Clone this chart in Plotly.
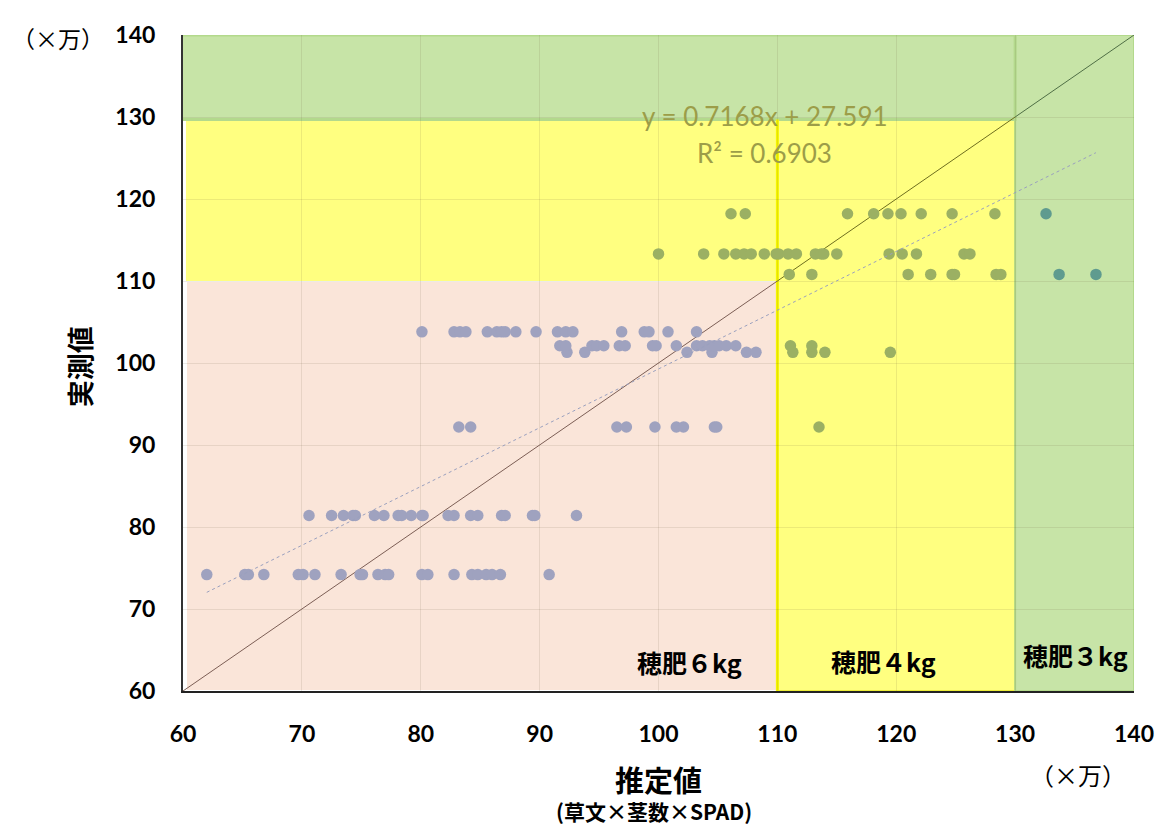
import plotly.graph_objects as go

# ---- data ----
measured_levels = [74.2, 81.4, 92.2, 101.3, 102.1, 103.8, 110.8, 113.3, 118.2]

est_at_742 = [62.0, 65.2, 65.5, 66.8, 69.7, 70.1, 71.1, 73.3, 74.9, 75.1, 76.4, 77.0, 77.3,
              80.1, 80.6, 82.8, 84.3, 84.8, 85.5, 86.0, 86.7, 90.8]
est_at_814 = [70.6, 72.5, 73.5, 74.3, 74.5, 76.1, 76.9, 78.1, 78.4, 79.2, 80.1, 80.2, 82.3,
              82.8, 84.2, 84.8, 86.8, 87.1, 89.4, 89.6, 93.1]
est_at_922 = [83.2, 84.2, 96.5, 97.3, 99.7, 101.5, 102.1, 104.7, 104.9, 113.5]
est_at_1013 = [92.3, 93.8, 102.4, 104.5, 107.4, 108.2, 111.3, 112.9, 114.0, 119.5]
est_at_1021 = [91.7, 92.2, 94.4, 94.8, 95.4, 96.7, 97.2, 99.5, 99.8, 101.5, 103.2, 103.7,
               104.3, 104.7, 105.1, 105.7, 106.5, 111.1, 112.9]
est_at_1038 = [80.1, 82.8, 83.3, 83.8, 85.6, 86.4, 86.8, 87.1, 88.0, 89.7, 91.5, 92.2, 92.8,
               96.9, 98.8, 99.2, 100.8, 103.2]
est_at_1108 = [111.0, 112.9, 121.0, 122.9, 124.7, 124.9, 128.4, 128.8, 133.7, 136.8]
est_at_1133 = [100.0, 103.8, 105.5, 106.5, 107.2, 107.8, 108.9, 109.9, 110.1, 110.9, 111.6,
               113.2, 113.7, 113.9, 115.0, 119.4, 120.5, 121.7, 125.7, 126.2]
est_at_1182 = [106.1, 107.3, 115.9, 118.1, 119.3, 120.4, 122.1, 124.7, 128.3, 132.6]

fit_slope = 0.7168
fit_intercept = 27.591
fit_r2 = 0.6903
fit_x_range = [62.0, 136.8]

zone_limits = [60, 110, 130, 140]          # axis min, 6kg|4kg, 4kg|3kg, axis max
zone_labels = ["穂肥６kg", "穂肥４kg", "穂肥３kg"]
x_ticks = [60, 70, 80, 90, 100, 110, 120, 130, 140]
y_ticks = [60, 70, 80, 90, 100, 110, 120, 130, 140]

# ---- build ----
rows = [est_at_742, est_at_814, est_at_922, est_at_1013, est_at_1021,
        est_at_1038, est_at_1108, est_at_1133, est_at_1182]
xs, ys = [], []
for lvl, row in zip(measured_levels, rows):
    xs += row
    ys += [lvl] * len(row)

lo, b1, b2, hi = zone_limits


def point_color(x, y):
    if x > b2 or y > b2:
        return "#5F9B8F"
    if x > b1 or y > b1:
        return "#9BB063"
    return "#9FA2BF"


colors = [point_color(x, y) for x, y in zip(xs, ys)]

PINK = "#FAE5D9"
YELLOW = "#FFFF80"
GREEN = "#C7E4A7"

fig = go.Figure()

shapes = [
    dict(type="rect", x0=lo + 0.25, x1=b1, y0=lo, y1=b1, fillcolor=PINK,
         line=dict(color="white", width=2), layer="below"),
    dict(type="rect", x0=lo + 0.25, x1=b1, y0=b1, y1=b2 - 0.3, fillcolor=YELLOW,
         line=dict(width=0), layer="below"),
    dict(type="rect", x0=b1, x1=b2, y0=lo, y1=b2 - 0.3, fillcolor=YELLOW,
         line=dict(color="#EDED3A", width=2), layer="below"),
    dict(type="rect", x0=b2, x1=hi, y0=lo, y1=hi, fillcolor=GREEN,
         line=dict(color="#B3D98C", width=2), layer="below"),
    dict(type="rect", x0=lo - 0.2, x1=b2, y0=b2 - 0.3, y1=hi, fillcolor=GREEN,
         line=dict(color="#B3D98C", width=3), layer="below"),
    dict(type="line", x0=b1, x1=b1, y0=lo, y1=b2 - 0.3,
         line=dict(color="#F5F500", width=3), layer="below"),
]
fig.update_layout(shapes=shapes)

seg_colors = ["#7C5E55", "#6E6E1E", "#4F6E45"]
for i in range(3):
    a, b = zone_limits[i], zone_limits[i + 1]
    fig.add_trace(go.Scatter(x=[a, b], y=[a, b], mode="lines",
                             line=dict(color=seg_colors[i], width=1),
                             hoverinfo="skip", showlegend=False))

fig.add_trace(go.Scatter(x=xs, y=ys, mode="markers",
                         marker=dict(size=11.5, color=colors, line=dict(width=0)),
                         showlegend=False))

fx = fit_x_range
fy = [fit_slope * v + fit_intercept for v in fx]
fig.add_trace(go.Scatter(x=fx, y=fy, mode="lines",
                         line=dict(color="#9AA0BE", width=1, dash="dot"),
                         hoverinfo="skip", showlegend=False))

tickfont = dict(family="Lato, Liberation Sans, sans-serif", size=23, color="black", weight="bold")
grid = "rgba(110,90,60,0.13)"
fig.update_xaxes(range=[lo, hi], tickvals=x_ticks, tickfont=tickfont, showgrid=True,
                 gridcolor=grid, gridwidth=1, zeroline=False, showline=True,
                 linecolor="#222", linewidth=2, mirror=False, ticks="", ticklen=0,
                 ticklabelstandoff=21)
fig.update_yaxes(range=[lo, hi], tickvals=y_ticks, tickfont=tickfont, showgrid=True,
                 gridcolor=grid, gridwidth=1, zeroline=False, showline=True,
                 linecolor="#333", linewidth=2, mirror=False, ticks="", ticklen=0,
                 ticklabelstandoff=21)

jp = "Noto Sans CJK JP"
num = "Lato, Liberation Sans, sans-serif"
ann = []


def A(**kw):
    kw.setdefault("showarrow", False)
    kw.setdefault("xanchor", "center")
    kw.setdefault("yanchor", "middle")
    ann.append(kw)


A(x=108.95, y=130.1, xref="x", yref="y", text=f"y = {fit_slope}x + {fit_intercept}",
  font=dict(family=num, size=26, color="#9C9D48"))
A(x=108.95, y=125.6, xref="x", yref="y", text=f"R² = {fit_r2}",
  font=dict(family=num, size=26, color="#9C9D48"))
label_pos = [(102.6, 63.5), (118.9, 63.7), (135.1, 64.4)]
for (lx, ly), t in zip(label_pos, zone_labels):
    A(x=lx, y=ly, xref="x", yref="y", text=t,
      font=dict(family=jp, size=25, color="black", weight="bold"))
A(x=-0.108, y=0.494, xref="paper", yref="paper", text="実測値", textangle=-90,
  font=dict(family=jp, size=27, color="black", weight="bold"))
A(x=0.5, y=-0.134, xref="paper", yref="paper", text="推定値",
  font=dict(family=jp, size=29, color="black", weight="bold"))
A(x=0.495, y=-0.183, xref="paper", yref="paper", text="(草文×茎数×SPAD)",
  font=dict(family=jp, size=21, color="black", weight="bold"))
A(x=-0.131, y=0.995, xref="paper", yref="paper", text="（×万）",
  font=dict(family=jp, size=23, color="black"))
A(x=0.941, y=-0.127, xref="paper", yref="paper", text="（×万）",
  font=dict(family=jp, size=24, color="black"))
fig.update_layout(annotations=ann)

fig.update_layout(width=1158, height=822, margin=dict(l=175, r=30, t=23, b=139),
                  plot_bgcolor="white", paper_bgcolor="white", showlegend=False)

fig.write_html("out.html")
